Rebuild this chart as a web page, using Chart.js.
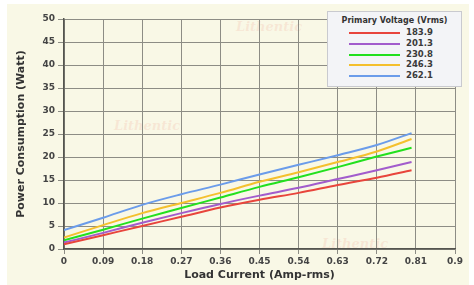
<!DOCTYPE html>
<html>
<head>
<meta charset="utf-8">
<script src="https://cdn.jsdelivr.net/npm/chart.js@4"></script>
<style>
    html, body { margin: 0; padding: 0; background: #ffffff; }
    #wrap { position: relative; width: 474px; height: 285px; overflow: hidden; }
    #panel { position: absolute; left: 7px; top: 4px; width: 462px; height: 281px; background: #f9f8e6; }
    .mark { position: absolute; font: italic bold 13px "DejaVu Serif", serif; color: rgba(240, 170, 150, 0.22); }
    #chartCanvas { position: absolute; left: 0; top: 0; }
    #legendBox {
        position: absolute; left: 327px; top: 11px; width: 135px; height: 76px;
        background: #f3f4f7; border: 1px solid #c9cacf; box-sizing: border-box;
        font-family: "DejaVu Sans", sans-serif; color: #333;
    }
    #legendBox .title { font-size: 8px; font-weight: bold; text-align: center; margin-top: 4px; height: 12px; }
    #legendBox .row { position: relative; height: 10.8px; }
    #legendBox .swatch { position: absolute; left: 21px; top: 4px; width: 51px; height: 2px; }
    #legendBox .lbl { position: absolute; left: 78px; top: -1px; font-size: 8.5px; font-weight: 600; color: #3a3a3a; }
</style>
</head>
<body>
<div id="wrap">
    <div id="panel"></div>
    <div class="mark" style="left:236px; top:19px;">Lithentic</div>
    <div class="mark" style="left:114px; top:118px;">Lithentic</div>
    <div class="mark" style="left:322px; top:236px;">Lithentic</div>
    <canvas id="chartCanvas" width="474" height="285"></canvas>
    <div id="legendBox"><div class="title">Primary Voltage (Vrms)</div></div>
</div>
<script>
const loadCurrent = [0, 0.09, 0.18, 0.27, 0.36, 0.45, 0.54, 0.63, 0.72, 0.8];
const voltageLabels = ["183.9", "201.3", "230.8", "246.3", "262.1"];
const power1839 = [1.0, 3.0, 5.0, 7.0, 9.0, 10.7, 12.2, 13.9, 15.5, 17.1];
const power2013 = [1.4, 3.5, 5.7, 7.8, 9.8, 11.6, 13.3, 15.2, 17.1, 18.9];
const power2308 = [1.9, 4.2, 6.6, 8.9, 11.2, 13.5, 15.6, 17.8, 20.1, 22.0];
const power2463 = [2.5, 5.2, 7.8, 10.0, 12.2, 14.6, 16.7, 18.9, 21.2, 23.9];
const power2621 = [4.1, 6.8, 9.6, 11.9, 14.0, 16.2, 18.3, 20.4, 22.6, 25.2];
const xTicks = [0, 0.09, 0.18, 0.27, 0.36, 0.45, 0.54, 0.63, 0.72, 0.81, 0.9];
const yTicks = [0, 5, 10, 15, 20, 25, 30, 35, 40, 45, 50];

const seriesValues = [power1839, power2013, power2308, power2463, power2621];
const lineColors = ["#e8453c", "#a25ccc", "#22e01e", "#f4c02e", "#6b9cea"];

const datasets = seriesValues.map((values, i) => ({
    label: voltageLabels[i],
    data: values.map((v, j) => ({ x: loadCurrent[j], y: v })),
    borderColor: lineColors[i],
    backgroundColor: lineColors[i],
    borderWidth: 2,
    pointRadius: 0,
    cubicInterpolationMode: "monotone",
    fill: false
}));

const legendBox = document.getElementById("legendBox");
datasets.forEach((ds) => {
    const row = document.createElement("div");
    row.className = "row";
    row.innerHTML = '<div class="swatch" style="background:' + ds.borderColor + '"></div><div class="lbl">' + ds.label + "</div>";
    legendBox.appendChild(row);
});

const tickFont = { family: "DejaVu Sans", size: 9, weight: "bold" };
const titleFont = { family: "DejaVu Sans", size: 11, weight: "bold" };

new Chart(document.getElementById("chartCanvas"), {
    type: "line",
    data: { datasets },
    options: {
        responsive: false,
        animation: false,
        layout: { padding: { left: 15, right: 19, top: 19, bottom: 3 } },
        plugins: { legend: { display: false }, tooltip: { enabled: false } },
        scales: {
            x: {
                type: "linear",
                min: 0,
                max: 0.9,
                afterBuildTicks: (scale) => { scale.ticks = xTicks.map((v) => ({ value: v })); },
                afterFit: (scale) => { scale.height = 33; },
                ticks: { font: tickFont, color: "#444", padding: 2, callback: (v) => String(+v.toFixed(2)) },
                grid: { color: "#8d8d85", lineWidth: 1, tickLength: 5, tickColor: "#8d8d85" },
                border: { color: "#55554f", width: 1.5 },
                title: { display: true, text: "Load Current (Amp-rms)", font: titleFont, color: "#333", padding: { top: 2, bottom: 0 } }
            },
            y: {
                min: 0,
                max: 50,
                afterBuildTicks: (scale) => { scale.ticks = yTicks.map((v) => ({ value: v })); },
                afterFit: (scale) => { scale.width = 49; },
                ticks: { font: tickFont, color: "#444", padding: 3 },
                grid: { color: "#8d8d85", lineWidth: 1, tickLength: 6, tickColor: "#8d8d85" },
                border: { color: "#55554f", width: 1.5 },
                title: { display: true, text: "Power Consumption (Watt)", font: titleFont, color: "#333", padding: { top: 0, bottom: 2 } }
            }
        }
    }
});
</script>
</body>
</html>
